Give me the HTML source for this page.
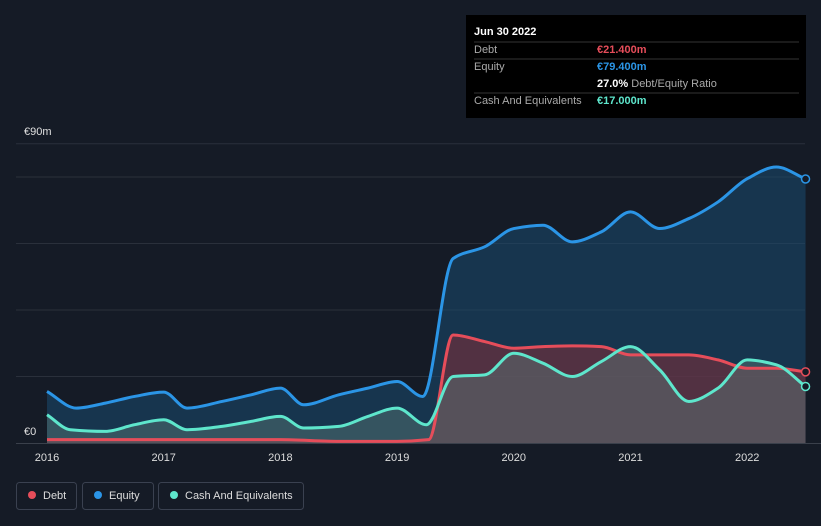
<!DOCTYPE html>
<html><head><meta charset="utf-8"><style>
body{margin:0;background:#151b26;font-family:"Liberation Sans",sans-serif;}
svg{display:block}
</style></head><body>
<svg width="821" height="526">
<rect width="821" height="526" fill="#151b26"/>
<g id="grid"></g>
<g id="areas"></g>
<g id="lines"></g>
<g id="xticks"></g>
<text x="24" y="135" fill="#e0e0e0" font-size="11">€90m</text>
<text x="24" y="435" fill="#e0e0e0" font-size="11">€0</text>
<g>
<rect x="466" y="15" width="340" height="103" fill="#000"/>
<text x="474" y="35" fill="#fff" font-size="11" font-weight="bold">Jun 30 2022</text>
<line x1="474" y1="42" x2="799" y2="42" stroke="#333"/>
<text x="474" y="53" fill="#aaa" font-size="11">Debt</text>
<text x="597" y="53" fill="#e64d5a" font-size="11" font-weight="bold">€21.400m</text>
<line x1="474" y1="59" x2="799" y2="59" stroke="#333"/>
<text x="474" y="70" fill="#aaa" font-size="11">Equity</text>
<text x="597" y="70" fill="#2b95e6" font-size="11" font-weight="bold">€79.400m</text>
<text x="597" y="87" fill="#fff" font-size="11" font-weight="bold">27.0% <tspan fill="#aaa" font-weight="normal">Debt/Equity Ratio</tspan></text>
<line x1="474" y1="93" x2="799" y2="93" stroke="#333"/>
<text x="474" y="104" fill="#aaa" font-size="11">Cash And Equivalents</text>
<text x="597" y="104" fill="#5ee6cc" font-size="11" font-weight="bold">€17.000m</text>
</g>
<g>
<rect x="16.5" y="482.5" width="60" height="27" rx="3" fill="none" stroke="#3a4150"/>
<circle cx="32" cy="495" r="4" fill="#e64d5a"/><text x="43" y="499" fill="#ddd" font-size="11">Debt</text>
<rect x="82.5" y="482.5" width="71" height="27" rx="3" fill="none" stroke="#3a4150"/>
<circle cx="98" cy="495" r="4" fill="#2b95e6"/><text x="109" y="499" fill="#ddd" font-size="11">Equity</text>
<rect x="158.5" y="482.5" width="145" height="27" rx="3" fill="none" stroke="#3a4150"/>
<circle cx="174" cy="495" r="4" fill="#5ee6cc"/><text x="185" y="499" fill="#ddd" font-size="11">Cash And Equivalents</text>
</g>
</svg>
<script>
const years=[2016,2017,2018,2019,2020,2021,2022];
const equityT=[2016,2016.25,2016.5,2016.75,2017,2017.2,2017.5,2017.75,2018,2018.2,2018.5,2018.75,2019,2019.22,2019.48,2019.75,2020,2020.25,2020.5,2020.75,2021,2021.25,2021.5,2021.75,2022,2022.25,2022.5];
const equityV=[15.5,10.5,12,14,15.3,10.5,12.5,14.5,16.5,11.5,14.5,16.5,18.5,14,55.5,59,64.5,65.5,60.5,63.5,69.5,64.5,67.5,72.5,79.5,83,79.4];
const debtT=[2016,2017,2018,2018.5,2019,2019.27,2019.48,2019.75,2020,2020.25,2020.5,2020.75,2021,2021.25,2021.5,2021.75,2022,2022.25,2022.5];
const debtV=[1,1,1,0.5,0.5,1,32.5,30.5,28.5,29,29.2,29,26.5,26.5,26.5,25,22.5,22.5,21.4];
const cashT=[2016,2016.2,2016.5,2016.75,2017,2017.2,2017.5,2017.75,2018,2018.2,2018.5,2018.75,2019,2019.25,2019.48,2019.75,2020,2020.25,2020.5,2020.75,2021,2021.25,2021.5,2021.75,2022,2022.25,2022.5];
const cashV=[8.5,4,3.5,5.5,7,4,5,6.5,8,4.5,5,8,10.5,5.5,20,20.5,27,24,20,24.5,29,22,12.5,16.5,25,23.5,17];
const X=t=>47+(t-2016)*116.7, Y=v=>443-v*3.325;
const NS="http://www.w3.org/2000/svg";
function mk(tag,attrs,parent){const e=document.createElementNS(NS,tag);for(const k in attrs)e.setAttribute(k,attrs[k]);document.getElementById(parent).appendChild(e);return e;}
for(const v of [20,40,60,80,90]){const l=mk('line',{x1:16,x2:805,y1:Y(v),y2:Y(v),stroke:'#2a303b'},'grid');

}
mk('line',{x1:16,x2:821,y1:443.5,y2:443.5,stroke:'#3a404b'},'grid');
years.forEach(y=>{const t=mk('text',{x:X(y),y:461,fill:'#ddd','font-size':11,'text-anchor':'middle'},'xticks');t.textContent=y;

});
function path(T,V){const xs=T.map(X),ys=V.map(Y),n=xs.length;
const d=[],m=new Array(n);for(let i=0;i<n-1;i++)d.push((ys[i+1]-ys[i])/(xs[i+1]-xs[i]));
m[0]=d[0];m[n-1]=d[n-2];
for(let i=1;i<n-1;i++){m[i]=(d[i-1]*d[i]<=0)?0:2/(1/d[i-1]+1/d[i]);}
let s=`M${xs[0]},${ys[0]}`;
for(let i=0;i<n-1;i++){const h=(xs[i+1]-xs[i])/3;
s+=`C${xs[i]+h},${ys[i]+m[i]*h} ${xs[i+1]-h},${ys[i+1]-m[i+1]*h} ${xs[i+1]},${ys[i+1]}`;}return s;}
function series(T,V,col,fill,op,name){const d=path(T,V);
const a=mk('path',{d:d+`L${X(T[T.length-1])},443L${X(T[0])},443Z`,fill:fill,'fill-opacity':op},'areas');


const l=mk('path',{d:d,fill:'none',stroke:col,'stroke-width':3},'lines');


const c=mk('circle',{cx:X(T[T.length-1]),cy:Y(V[V.length-1]),r:4,fill:'#151b26',stroke:col,'stroke-width':1.5},'lines');

}
series(equityT,equityV,'#2b95e6','#1a4a70',0.55,'equity');
series(debtT,debtV,'#e64d5a','#7a2f3a',0.6,'debt');
series(cashT,cashV,'#5ee6cc','#5a7a78',0.45,'cash');
</script>
</body></html>
